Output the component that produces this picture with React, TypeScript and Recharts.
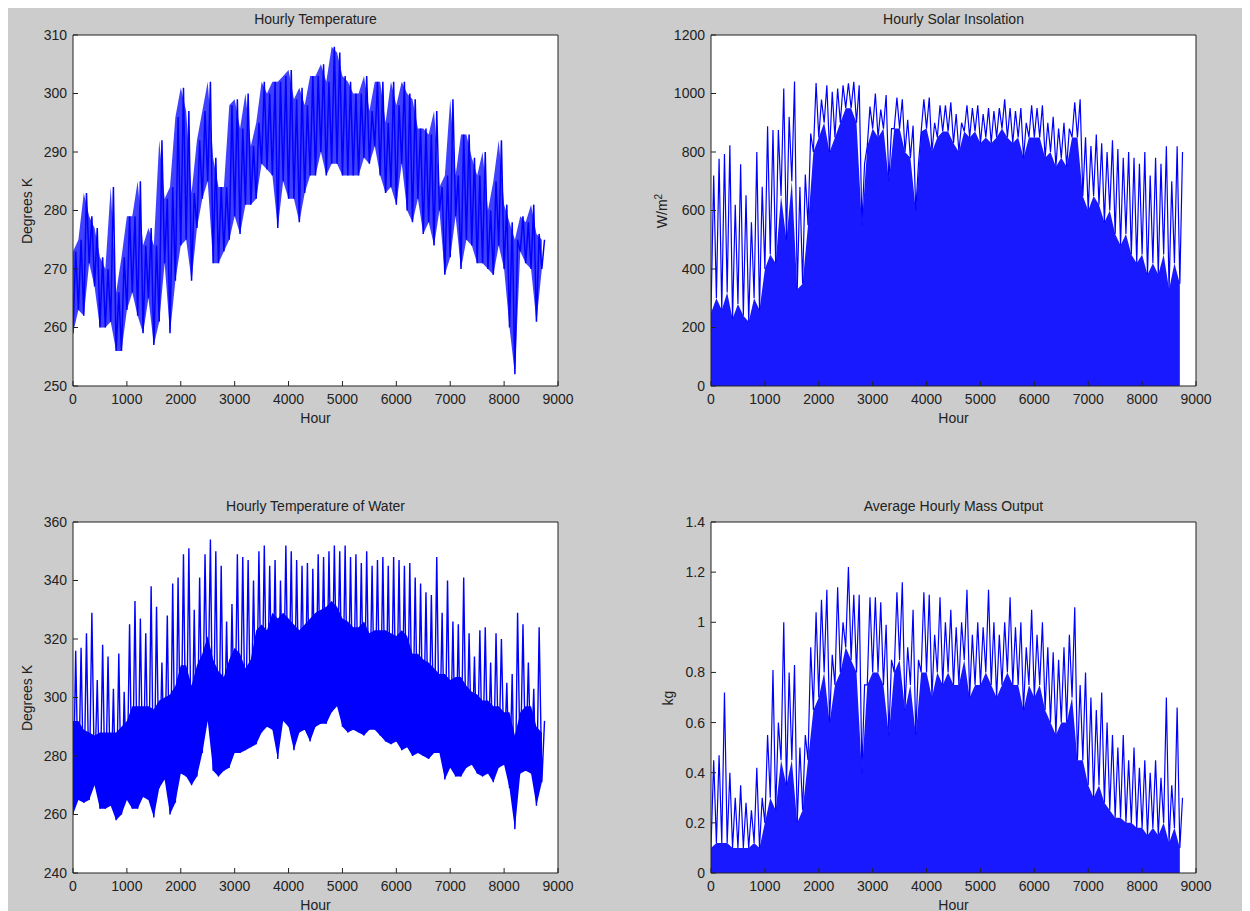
import React from "react";
import { ComposedChart, Line, Area, XAxis, YAxis } from "recharts";

const FONT = "'Liberation Sans', Arial, sans-serif";
const INK = "#222222";
const BLUE = "#0000ff";

const hourTicks = [0, 1000, 2000, 3000, 4000, 5000, 6000, 7000, 8000, 9000];

// every array below holds one value per 100-hour bin (bin i = hours i*100 .. i*100+99)
const airMin = [
  259, 263, 262, 271, 267, 260, 260, 261, 256, 256,
  263, 266, 262, 259, 265, 257, 261, 271, 259, 268,
  274, 275, 268, 277, 282, 285, 271, 271, 273, 275,
  279, 276, 281, 281, 282, 288, 287, 286, 277, 285,
  282, 282, 278, 283, 286, 286, 290, 286, 288, 288,
  286, 286, 286, 286, 289, 288, 291, 286, 283, 284,
  281, 288, 280, 278, 282, 276, 278, 274, 280, 269,
  272, 279, 270, 275, 274, 271, 271, 270, 269, 274,
  270, 260, 252, 273, 271, 270, 261, 270,
];
const airMax = [
  273, 275, 283, 279, 277, 272, 270, 284, 266, 272,
  279, 279, 285, 274, 277, 274, 292, 282, 284, 296,
  301, 297, 283, 292, 297, 302, 289, 284, 284, 298,
  299, 294, 300, 291, 295, 302, 300, 302, 302, 303,
  304, 299, 301, 298, 303, 303, 305, 302, 308, 307,
  303, 302, 300, 300, 303, 297, 302, 302, 295, 302,
  298, 302, 300, 299, 294, 294, 293, 297, 284, 286,
  299, 286, 293, 293, 289, 286, 290, 280, 285, 292,
  281, 278, 275, 279, 278, 281, 276, 275,
];

// solar: level below which the plot is nearly solid blue, and the tallest spike
const sunDense = [
  250, 300, 260, 320, 230, 280, 240, 220, 300, 260,
  400, 450, 420, 650, 500, 700, 330, 350, 550, 800,
  850, 900, 800, 850, 900, 950, 950, 900, 550, 820,
  880, 850, 880, 700, 880, 880, 800, 780, 600, 870,
  880, 800, 850, 870, 870, 830, 800, 870, 850, 870,
  830, 850, 830, 850, 880, 850, 830, 850, 780, 850,
  850, 850, 780, 800, 750, 780, 750, 850, 850, 650,
  600, 650, 620, 560, 600, 520, 480, 520, 450, 420,
  450, 380, 420, 380, 450, 330, 420, 350,
];
const sunPeak = [
  720, 777, 793, 823, 620, 758, 652, 560, 800, 681,
  888, 875, 875, 1017, 920, 1041, 680, 723, 863, 1036,
  979, 1028, 1006, 1017, 1028, 1035, 1040, 1028, 760, 955,
  1000, 945, 995, 880, 986, 980, 910, 890, 760, 980,
  986, 900, 960, 960, 970, 930, 900, 960, 950, 960,
  930, 950, 940, 950, 980, 950, 940, 950, 900, 960,
  950, 960, 900, 920, 880, 900, 880, 970, 980, 850,
  820, 860, 830, 800, 840, 810, 780, 800, 780, 760,
  800, 720, 780, 760, 820, 700, 820, 800,
];

const waterLow = [
  260, 265, 264, 265, 270, 262, 262, 263, 258, 260,
  265, 262, 262, 266, 265, 259, 269, 272, 260, 264,
  274, 273, 270, 273, 281, 292, 275, 273, 275, 276,
  281, 281, 282, 283, 284, 288, 290, 289, 279, 292,
  290, 282, 288, 289, 285, 290, 291, 291, 295, 297,
  290, 288, 289, 288, 287, 289, 289, 287, 285, 284,
  285, 282, 283, 280, 281, 280, 279, 281, 281, 272,
  276, 273, 273, 276, 277, 274, 273, 274, 271, 276,
  277, 269, 255, 274, 275, 274, 263, 271,
];
const waterTop = [
  292, 292, 289, 288, 287, 288, 288, 288, 288, 290,
  292, 297, 297, 297, 297, 296, 299, 300, 301, 304,
  311, 311, 304, 311, 315, 321, 313, 309, 307, 313,
  317, 315, 310, 313, 323, 325, 323, 329, 327, 329,
  327, 325, 323, 325, 327, 329, 330, 331, 333, 331,
  327, 326, 324, 324, 326, 322, 323, 323, 323, 322,
  321, 323, 321, 315, 315, 313, 312, 310, 308, 308,
  306, 307, 307, 304, 302, 301, 299, 299, 297, 297,
  295, 295, 287, 295, 297, 297, 290, 288,
];
const waterPeak = [
  316, 317, 322, 329, 306, 318, 314, 303, 315, 302,
  325, 333, 327, 322, 338, 331, 312, 328, 339, 341,
  349, 351, 330, 341, 349, 354, 350, 345, 326, 332,
  349, 348, 347, 340, 350, 352, 345, 347, 340, 352,
  350, 347, 345, 346, 344, 349, 348, 350, 352, 350,
  352, 348, 349, 346, 350, 345, 347, 348, 345, 348,
  347, 345, 346, 341, 339, 336, 335, 348, 329, 340,
  326, 325, 341, 322, 314, 323, 324, 312, 322, 320,
  305, 308, 329, 325, 312, 303, 324, 292,
];

const massDense = [
  0.1, 0.12, 0.12, 0.12, 0.1, 0.1, 0.1, 0.1, 0.12, 0.1,
  0.2, 0.3, 0.25, 0.45, 0.35, 0.45, 0.2, 0.25, 0.45, 0.65,
  0.7, 0.8, 0.6, 0.75, 0.8, 0.9, 0.85, 0.8, 0.4, 0.75,
  0.8, 0.8, 0.75, 0.55, 0.8, 0.85, 0.65, 0.75, 0.55, 0.8,
  0.8, 0.7, 0.8, 0.75, 0.8, 0.75, 0.75, 0.85, 0.7, 0.75,
  0.75, 0.8, 0.75, 0.7, 0.75, 0.8, 0.75, 0.75, 0.65, 0.75,
  0.7, 0.75, 0.65, 0.6, 0.55, 0.6, 0.6, 0.7, 0.45, 0.45,
  0.35, 0.3, 0.35, 0.28, 0.25, 0.22, 0.22, 0.2, 0.2, 0.18,
  0.18, 0.15, 0.18, 0.15, 0.2, 0.12, 0.18, 0.1,
];
const massPeak = [
  0.45, 0.47, 0.72, 0.4, 0.3, 0.35, 0.28, 0.25, 0.42, 0.3,
  0.55, 0.81, 0.6, 1.0, 0.8, 0.83, 0.5, 0.55, 0.9, 1.04,
  1.09, 1.13, 0.87, 1.14, 1.0, 1.22, 1.11, 1.11, 0.75, 1.1,
  1.1, 1.08, 0.99, 0.85, 1.12, 1.16, 0.9, 1.05, 0.85, 1.12,
  1.11, 0.95, 1.1, 1.0, 1.05, 0.98, 1.0, 1.13, 0.95, 1.0,
  0.98, 1.13, 1.0, 0.95, 1.0, 1.1, 0.98, 1.0, 0.9, 1.05,
  0.95, 1.0, 0.9, 0.88, 0.85, 0.9, 0.95, 1.06, 0.75, 0.8,
  0.7, 0.65, 0.72, 0.6, 0.55, 0.5, 0.55, 0.45, 0.5, 0.42,
  0.45, 0.4, 0.45, 0.38, 0.7, 0.35, 0.66, 0.3,
];

// low value at the start of a bin, high value half way through it
function zigzag(lo: number[], hi: number[]) {
  const rows: { h: number; v: number }[] = [];
  hi.forEach((v, i) => {
    rows.push({ h: i * 100, v: lo[i] });
    rows.push({ h: i * 100 + 50, v });
  });
  return rows;
}

function band(lo: number[] | null, hi: number[]) {
  return hi.map((v, i) => ({ h: i * 100, r: [lo ? lo[i] : 0, v] }));
}

const airBand = band(airMin, airMax);
const airRows = zigzag(airMin, airMax);
const sunBand = band(null, sunDense);
const sunRows = zigzag(sunDense, sunPeak);
const waterBand = band(waterLow, waterTop);
const waterRows = zigzag(waterLow, waterPeak);
const massBand = band(null, massDense);
const massRows = zigzag(massDense, massPeak);

const PLOT_W = 485;
const PLOT_H = 351;
const AXIS_W = 60;
const AXIS_H = 45;
const PAD_T = 10;
const PAD_R = 25;

const tickStyle = { fill: INK, fontSize: 14, fontFamily: FONT };
const noLabel = () => <g />;
const textStyle: React.CSSProperties = {
  position: "absolute",
  fontFamily: FONT,
  fontSize: 14,
  lineHeight: "16px",
  color: INK,
  whiteSpace: "nowrap",
};

function Panel({
  left,
  top,
  title,
  yLabel,
  labelX,
  domain,
  yTicks,
  children,
}: {
  left: number;
  top: number;
  title: string;
  yLabel: React.ReactNode;
  labelX: number;
  domain: [number, number];
  yTicks: number[];
  children: React.ReactNode;
}) {
  return (
    <>
      <div style={{ position: "absolute", left, top, width: PLOT_W, height: PLOT_H, background: "#ffffff" }} />
      <div style={{ ...textStyle, left: left + PLOT_W / 2, top: top - 24, transform: "translateX(-50%)" }}>
        {title}
      </div>
      <div
        style={{
          ...textStyle,
          left: labelX,
          top: top + PLOT_H / 2,
          transform: "translate(-50%, -50%) rotate(-90deg)",
        }}
      >
        {yLabel}
      </div>
      <div style={{ ...textStyle, left: left + PLOT_W / 2, top: top + PLOT_H + 24, transform: "translateX(-50%)" }}>
        Hour
      </div>
      <div style={{ position: "absolute", left: left - AXIS_W, top: top - PAD_T - 1 }}>
        <ComposedChart
          width={AXIS_W + PLOT_W + 1 + PAD_R}
          height={PAD_T + 1 + PLOT_H + AXIS_H}
          margin={{ top: PAD_T, right: PAD_R, bottom: 0, left: 0 }}
        >
          <XAxis
            type="number"
            dataKey="h"
            domain={[0, 9000]}
            ticks={hourTicks}
            height={AXIS_H}
            allowDataOverflow
            stroke={INK}
            tickSize={-5}
            tickMargin={13}
            tick={tickStyle}
          />
          <XAxis
            xAxisId="top"
            orientation="top"
            type="number"
            domain={[0, 9000]}
            ticks={hourTicks}
            height={1}
            stroke={INK}
            tickSize={-5}
            tick={noLabel}
          />
          <YAxis
            type="number"
            domain={domain}
            ticks={yTicks}
            width={AXIS_W}
            allowDataOverflow
            stroke={INK}
            tickSize={-5}
            tickMargin={11}
            tick={tickStyle}
            interval={0}
          />
          <YAxis
            yAxisId="right"
            orientation="right"
            type="number"
            domain={domain}
            ticks={yTicks}
            width={1}
            stroke={INK}
            tickSize={-5}
            tick={noLabel}
          />
          {children}
        </ComposedChart>
      </div>
    </>
  );
}

export default function App() {
  return (
    <div style={{ position: "relative", width: 1250, height: 911, margin: "-8px 0 0 -8px", background: "#ffffff" }}>
      <div style={{ position: "absolute", left: 7, top: 7, width: 1236, height: 904, background: "#cccccc" }} />

      <Panel
        left={73}
        top={35}
        title="Hourly Temperature"
        yLabel="Degrees K"
        labelX={27}
        domain={[250, 310]}
        yTicks={[250, 260, 270, 280, 290, 300, 310]}
      >
        <Area data={airBand} dataKey="r" stroke="none" fill={BLUE} fillOpacity={0.75} isAnimationActive={false} />
        <Line data={airRows} dataKey="v" stroke={BLUE} strokeWidth={1.5} dot={false} isAnimationActive={false} />
      </Panel>

      <Panel
        left={711}
        top={35}
        title="Hourly Solar Insolation"
        yLabel={
          <span>
            W/m<sup style={{ fontSize: 10 }}>2</sup>
          </span>
        }
        labelX={660}
        domain={[0, 1200]}
        yTicks={[0, 200, 400, 600, 800, 1000, 1200]}
      >
        <Area data={sunBand} dataKey="r" stroke="none" fill={BLUE} fillOpacity={0.9} isAnimationActive={false} />
        <Line data={sunRows} dataKey="v" stroke={BLUE} strokeWidth={1.2} dot={false} isAnimationActive={false} />
      </Panel>

      <Panel
        left={73}
        top={522}
        title="Hourly Temperature of Water"
        yLabel="Degrees K"
        labelX={27}
        domain={[240, 360]}
        yTicks={[240, 260, 280, 300, 320, 340, 360]}
      >
        <Area data={waterBand} dataKey="r" stroke="none" fill={BLUE} fillOpacity={1} isAnimationActive={false} />
        <Line data={waterRows} dataKey="v" stroke={BLUE} strokeWidth={1.4} dot={false} isAnimationActive={false} />
      </Panel>

      <Panel
        left={711}
        top={522}
        title="Average Hourly Mass Output"
        yLabel="kg"
        labelX={668}
        domain={[0, 1.4]}
        yTicks={[0, 0.2, 0.4, 0.6, 0.8, 1, 1.2, 1.4]}
      >
        <Area data={massBand} dataKey="r" stroke="none" fill={BLUE} fillOpacity={0.9} isAnimationActive={false} />
        <Line data={massRows} dataKey="v" stroke={BLUE} strokeWidth={1.2} dot={false} isAnimationActive={false} />
      </Panel>
    </div>
  );
}
